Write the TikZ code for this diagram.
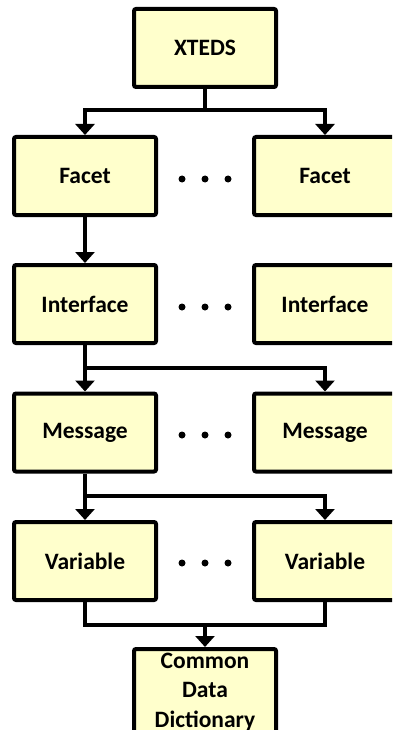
\documentclass[tikz,border=0pt]{standalone}
\usepackage{fontspec}
\setmainfont{Carlito}
\usetikzlibrary{arrows.meta}
\definecolor{boxfill}{RGB}{255,255,204}
\begin{document}
\begin{tikzpicture}[x=1pt,y=-1pt,
  block/.style={draw=black, line width=4pt, fill=boxfill, rounded corners=2pt,
    minimum width=142pt, minimum height=78pt, inner sep=0pt,
    font=\bfseries\fontsize{23.5}{29.5}\selectfont, align=center},
  link/.style={line width=4pt},
  arr/.style={link, -{Triangle[width=19pt,length=11pt]}}]
\clip (0,0) rectangle (392,730);
\useasboundingbox (0,0) rectangle (392,730);

% boxes
\node[block] (xteds) at (205,48) {XTEDS};
\node[block] (facetL) at (85,176) {Facet};
\node[block] (facetR) at (325,176) {Facet};
\node[block] (interL) at (85,304) {Interface};
\node[block] (interR) at (325,304) {Interface};
\node[block] (msgL) at (85,432.5) {Message};
\node[block] (msgR) at (325,432.5) {Message};
\node[block] (varL) at (85,561) {Variable};
\node[block] (varR) at (325,561) {Variable};
\node[block, minimum height=86pt] (cdd) at (205,692) {Common\\Data\\Dictionary};

% ellipses between the two columns
\foreach \yy in {179,307,435,563} {
  \foreach \xx in {182,205,228} {
    \fill (\xx,\yy) circle (3.5pt);
  }
}

% connectors
\coordinate (j1) at (205,110);
\draw[link] (xteds.south) -- (j1);
\draw[arr] (j1) -| (facetL.north);
\draw[arr] (j1) -| (facetR.north);

\draw[arr] (facetL.south) -- (interL.north);

\coordinate (j2) at (85,368);
\draw[arr] (interL.south) -- (msgL.north);
\draw[arr] (j2) -| (msgR.north);

\coordinate (j3) at (85,496);
\draw[arr] (msgL.south) -- (varL.north);
\draw[arr] (j3) -| (varR.north);

\coordinate (j4) at (205,623);
\draw[link] (varL.south) -- ++(0,23) -| (varR.south);
\draw[arr] (j4) -- (cdd.north);
\end{tikzpicture}
\end{document}
